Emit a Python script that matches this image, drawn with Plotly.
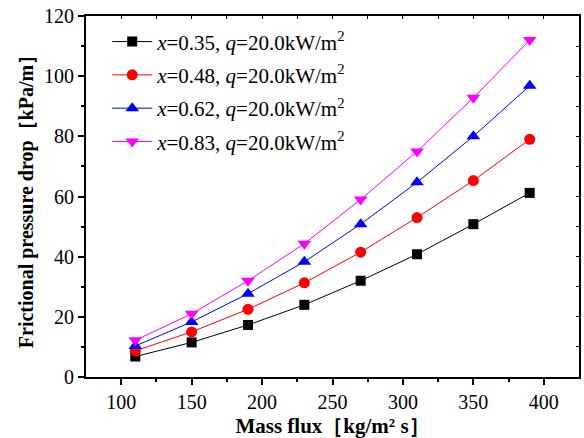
import plotly.graph_objects as go

mass_flux = [110, 150, 190, 230, 270, 310, 350, 390]
dp_035 = [6.8, 11.5, 17.3, 24.0, 32.0, 40.8, 50.8, 61.2]
dp_048 = [8.7, 15.0, 22.5, 31.3, 41.5, 53.0, 65.3, 79.0]
dp_062 = [10.3, 18.3, 27.7, 38.3, 50.8, 64.7, 80.0, 96.8]
dp_083 = [12.2, 21.0, 32.0, 44.3, 59.0, 75.0, 92.8, 112.0]
labels = ["<i>x</i>=0.35, <i>q</i>=20.0kW/m<sup>2</sup>",
          "<i>x</i>=0.48, <i>q</i>=20.0kW/m<sup>2</sup>",
          "<i>x</i>=0.62, <i>q</i>=20.0kW/m<sup>2</sup>",
          "<i>x</i>=0.83, <i>q</i>=20.0kW/m<sup>2</sup>"]

series = [dp_035, dp_048, dp_062, dp_083]
colors = ["#000000", "#ff0000", "#0000ff", "#ff00ff"]
symbols = ["square", "circle", "triangle-up", "triangle-down"]
sizes = [10, 11, 12, 12]

FONT = "Liberation Serif"
fig = go.Figure()
for i, (ys, c, s, sz, lab) in enumerate(zip(series, colors, symbols, sizes, labels)):
    fig.add_trace(go.Scatter(x=mass_flux, y=ys, mode="lines+markers", name=lab,
                             legendgroup=f"g{i}",
                             line=dict(color=c, width=1),
                             marker=dict(symbol=s, size=sz, color=c)))

# invisible trace for mirrored inside ticks
fig.add_trace(go.Scatter(x=[mass_flux[0]], y=[dp_035[0]], xaxis="x2", yaxis="y2",
                         mode="markers", marker=dict(opacity=0), showlegend=False,
                         hoverinfo="skip"))

XR = [75, 425]
YR = [0, 120]
fig.update_layout(
    width=584, height=438,
    margin=dict(l=86, r=5, t=16, b=61, autoexpand=False),
    paper_bgcolor="white", plot_bgcolor="white",
    font=dict(family=FONT, size=20, color="black"),
    showlegend=True,
    legend=dict(x=0.043, y=0.985, xanchor="left", yanchor="top",
                bgcolor="rgba(0,0,0,0)", borderwidth=0,
                font=dict(family=FONT, size=21, color="black"),
                tracegroupgap=3, itemwidth=40),
    xaxis=dict(range=XR, tickvals=[100, 150, 200, 250, 300, 350, 400],
               ticks="outside", ticklen=6, tickwidth=1.5, tickcolor="black",
               minor=dict(tickvals=[125, 175, 225, 275, 325, 375], ticks="outside",
                          ticklen=3, tickwidth=1.5, tickcolor="black"),
               showline=True, linecolor="black", linewidth=2, showgrid=False, zeroline=False,
               tickfont=dict(family=FONT, size=20), automargin=False,
               title=dict(text="<b>Mass flux［kg/m² s］</b>",
                          font=dict(family=FONT, size=21), standoff=12)),
    yaxis=dict(range=YR, tickvals=[0, 20, 40, 60, 80, 100, 120],
               ticks="outside", ticklen=6, tickwidth=1.5, tickcolor="black",
               minor=dict(tickvals=[10, 30, 50, 70, 90, 110], ticks="outside",
                          ticklen=3, tickwidth=1.5, tickcolor="black"),
               showline=True, linecolor="black", linewidth=2, showgrid=False, zeroline=False,
               tickfont=dict(family=FONT, size=20), automargin=False,
               title=dict(text="<b>Frictional pressure drop［kPa/m］</b>",
                          font=dict(family=FONT, size=20), standoff=5)),
    xaxis2=dict(range=XR, overlaying="x", side="top", anchor="y2",
                tickvals=[100, 125, 150, 175, 200, 225, 250, 275, 300, 325, 350, 375, 400],
                ticks="inside", ticklen=3, tickwidth=1, tickcolor="black",
                showticklabels=False, showline=True, linecolor="black", linewidth=2,
                showgrid=False, zeroline=False, automargin=False),
    yaxis2=dict(range=YR, overlaying="y", side="right", anchor="x2",
                tickvals=[10, 20, 30, 40, 50, 60, 70, 80, 90, 100, 110],
                ticks="inside", ticklen=3, tickwidth=1, tickcolor="black",
                showticklabels=False, showline=True, linecolor="black", linewidth=2,
                showgrid=False, zeroline=False, automargin=False),
)

fig.write_html("out.html")
